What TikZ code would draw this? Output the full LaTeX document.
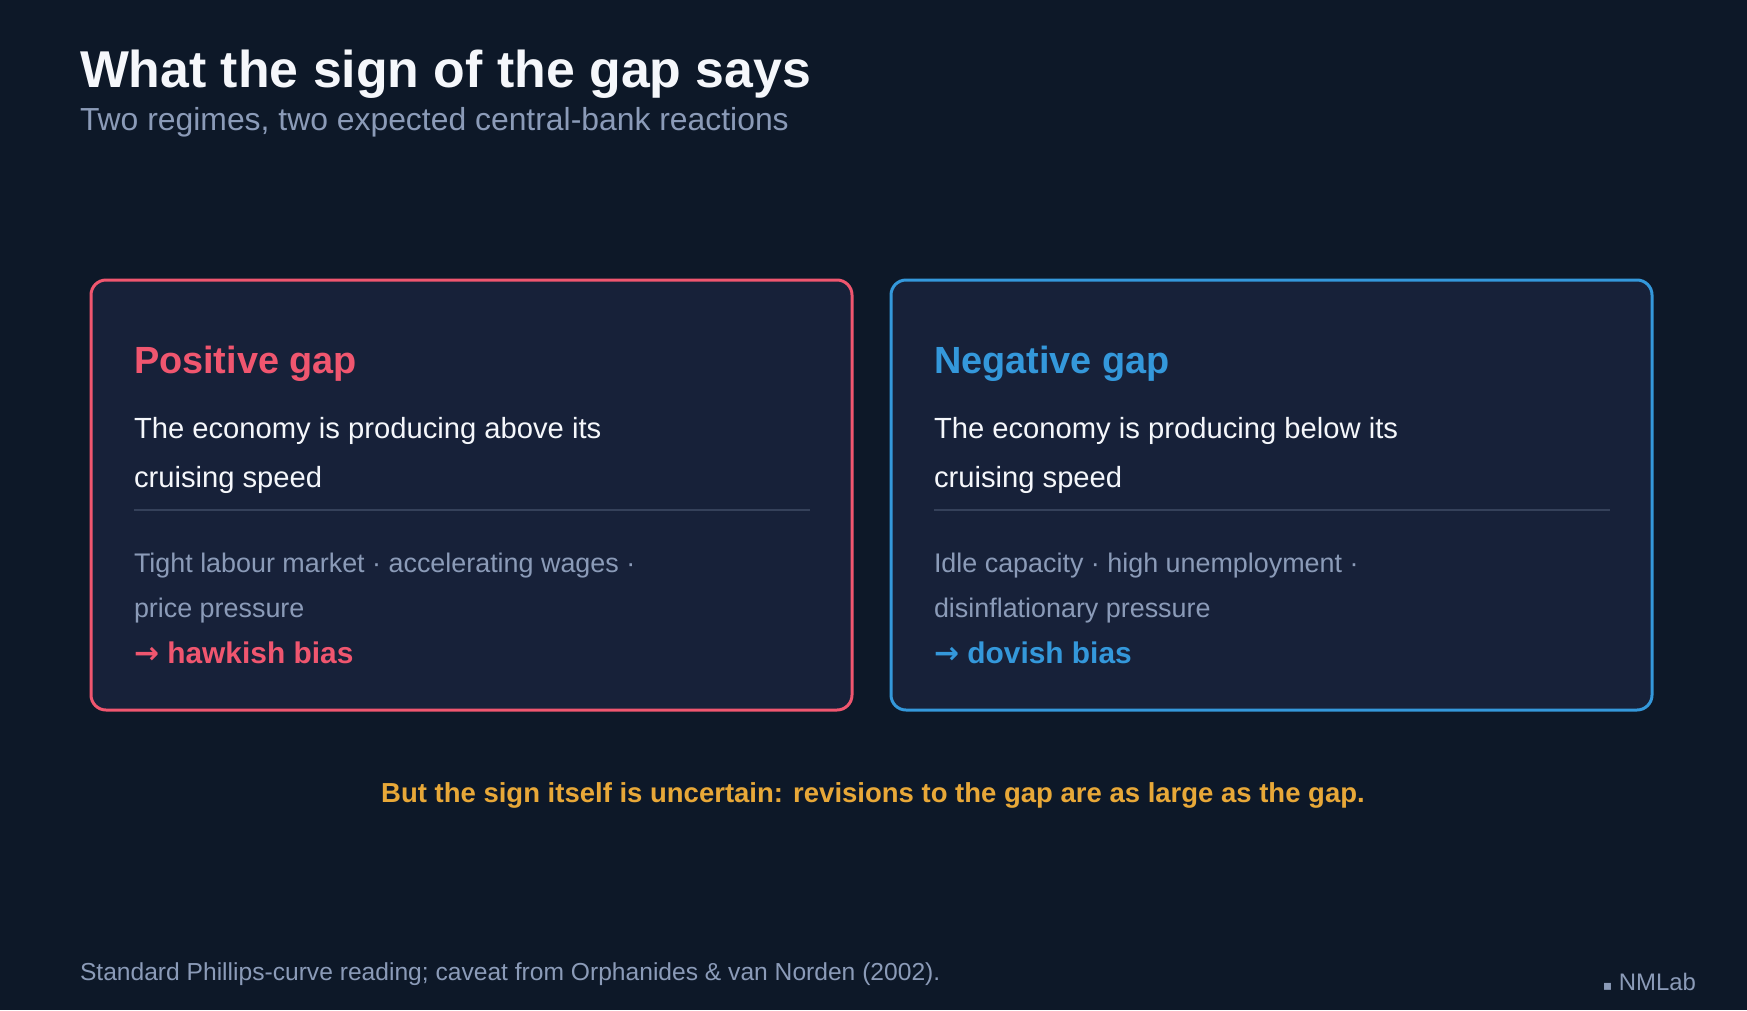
\documentclass[tikz,border=0pt]{standalone}
\usepackage{fontspec}
\setmainfont{Liberation Sans}
\newfontfamily\symfont{DejaVu Sans} % arrows and the small square
\usetikzlibrary{positioning, calc}

\definecolor{bgdark}{HTML}{0D1828}
\definecolor{cardfill}{HTML}{172139}
\definecolor{hawkred}{HTML}{F0566F}
\definecolor{doveblue}{HTML}{3498DB}
\definecolor{warnorange}{HTML}{E8A838}
\definecolor{mutedtext}{HTML}{8B9BB8}
\definecolor{ruleline}{HTML}{35415A}
\definecolor{brightwhite}{HTML}{F5F7FB}

\tikzset{x=1bp, y=-1bp, % one unit is one pixel of the layout, y grows downwards
        every node/.style={inner sep=0pt, outer sep=0pt},
        card/.style={ % the two regime boxes
            draw, line width=3bp,
            rounded corners=15bp,
            fill=cardfill},
        heading/.style={anchor=base west, font=\fontsize{38}{46}\selectfont\bfseries},
        bodyline/.style={anchor=base west, text=brightwhite, font=\fontsize{29.3}{34}\selectfont},
        detailline/.style={anchor=base west, text=mutedtext, font=\fontsize{27}{30}\selectfont},
        biasline/.style={anchor=base west, font=\fontsize{30}{36}\selectfont\bfseries},
        divider/.style={draw=ruleline, line width=2bp}
        }
\newcommand{\biasarrow}{{\symfont\fontsize{30}{36}\selectfont →}}

\begin{document}
\begin{tikzpicture}
    \useasboundingbox[fill=bgdark] (0,0) rectangle (1747,1010);

    % header
    \node[anchor=base west, text=brightwhite, font=\fontsize{52}{64}\selectfont\bfseries]
        (title) at (80,87) {What the sign of the gap says};
    \node[anchor=base west, text=mutedtext, font=\fontsize{32}{38}\selectfont]
        (subtitle) at (80,130) {Two regimes, two expected central-bank reactions};

    % positive gap
    \draw[card, draw=hawkred] (91,280) rectangle (852,710);
    \node[heading, text=hawkred] (posHead) at (134,373) {Positive gap};
    \node[bodyline] (posLineA) at (134,438) {The economy is producing above its};
    \node[bodyline] (posLineB) at (134,487) {cruising speed};
    \coordinate (posRuleL) at (134,510);
    \coordinate (posRuleR) at (810,510);
    \draw[divider] (posRuleL) -- (posRuleR);
    \node[detailline] (posDetA) at (134,572) {Tight labour market · accelerating wages ·};
    \node[detailline] (posDetB) at (134,617) {price pressure};
    \node[biasline, text=hawkred] (posBias) at (134,663) {\biasarrow\ hawkish bias};

    % negative gap
    \draw[card, draw=doveblue] (891,280) rectangle (1652,710);
    \node[heading, text=doveblue] (negHead) at (934,373) {Negative gap};
    \node[bodyline] (negLineA) at (934,438) {The economy is producing below its};
    \node[bodyline] (negLineB) at (934,487) {cruising speed};
    \coordinate (negRuleL) at (934,510);
    \coordinate (negRuleR) at (1610,510);
    \draw[divider] (negRuleL) -- (negRuleR);
    \node[detailline] (negDetA) at (934,572) {Idle capacity · high unemployment ·};
    \node[detailline] (negDetB) at (934,617) {disinflationary pressure};
    \node[biasline, text=doveblue] (negBias) at (934,663) {\biasarrow\ dovish bias};

    % caveat and footer
    \node[anchor=base, text=warnorange, font=\fontsize{27.6}{34}\selectfont\bfseries]
        (caveat) at (873,802) {But the sign itself is uncertain: revisions to the gap are as large as the gap.};
    \node[anchor=base west, text=mutedtext, font=\fontsize{24.7}{28}\selectfont]
        (source) at (80,980) {Standard Phillips-curve reading; caveat from Orphanides \& van Norden (2002).};
    \node[anchor=base east, text=mutedtext, font=\fontsize{24}{28}\selectfont]
        (brand) at (1696,990) {{\symfont\fontsize{14}{16}\selectfont ▪} NMLab};
\end{tikzpicture}
\end{document}
